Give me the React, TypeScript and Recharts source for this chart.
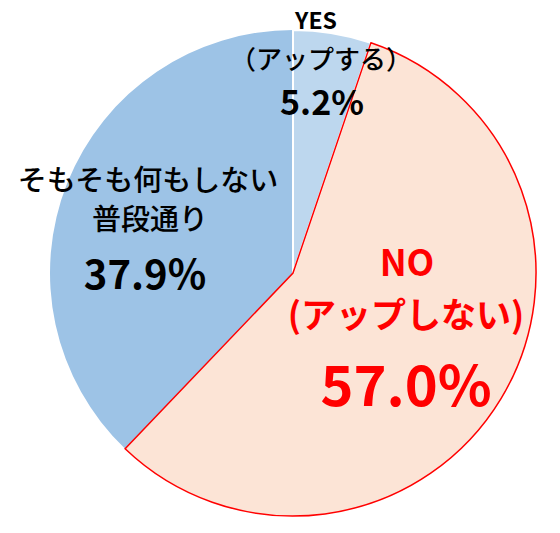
import { PieChart, Pie, Cell } from 'recharts'

const categories = ['YES', 'NO', 'そもそも何もしない普段通り']
const values = [5.2, 57.0, 37.9]
const titleLines = [
  ['YES', '（アップする）'],
  ['NO', '(アップしない)'],
  ['そもそも何もしない', '普段通り'],
]
const percentLabels = ['5.2%', '57.0%', '37.9%']

const FILLS = ['#BDD7EE', '#FCE4D6', '#9DC3E6']
const EDGES = ['#FFFFFF', '#FF0000', 'none']
const FONT = "'Noto Sans CJK JP', 'Noto Sans', sans-serif"

const data = categories.map((name, i) => ({ name, value: values[i] }))

// text layout per slice, offsets from pie centre
const LABEL_LAYOUT = [
  {
    color: '#000',
    lines: [
      { dx: 23, dy: -254, size: 23, weight: 700 },
      { dx: 28, dy: -216, size: 26, weight: 500 },
      { dx: 29, dy: -173, size: 34, weight: 700 },
    ],
  },
  {
    color: '#FF0000',
    lines: [
      { dx: 114, dy: -13, size: 36, weight: 700 },
      { dx: 113, dy: 39, size: 35, weight: 700 },
      { dx: 113, dy: 108, size: 56, weight: 700 },
    ],
  },
  {
    color: '#000',
    lines: [
      { dx: -145, dy: -95, size: 29, weight: 500 },
      { dx: -143, dy: -56, size: 29, weight: 500 },
      { dx: -148, dy: -1, size: 40, weight: 700 },
    ],
  },
]

const renderLabel = (props: any) => {
  const { cx, cy, index } = props
  const layout = LABEL_LAYOUT[index]
  const texts = [...titleLines[index], percentLabels[index]]
  return (
    <g key={`lbl-${index}`}>
      {texts.map((t, j) => {
        const l = layout.lines[j]
        return (
          <text
            key={j}
            x={cx + l.dx}
            y={cy + l.dy}
            textAnchor="middle"
            dominantBaseline="central"
            fill={layout.color}
            fontFamily={FONT}
            fontSize={l.size}
            fontWeight={l.weight}
          >
            {t}
          </text>
        )
      })}
    </g>
  )
}

export default function App() {
  return (
    <div style={{ position: 'absolute', left: 0, top: 0, width: 560, height: 533, background: '#fff' }}>
      <PieChart width={560} height={533} margin={{ top: 0, right: 0, bottom: 0, left: 0 }}>
        <Pie
          data={data}
          dataKey="value"
          cx={293}
          cy={273}
          outerRadius={243}
          startAngle={90}
          endAngle={-270}
          stroke="none"
          label={renderLabel}
          labelLine={false}
          isAnimationActive={false}
        >
          {data.map((d, i) => (
            <Cell key={d.name} fill={FILLS[i]} />
          ))}
        </Pie>
        {/* outlines drawn on top so the red edge is not covered */}
        <Pie
          data={data}
          dataKey="value"
          cx={293}
          cy={273}
          outerRadius={243}
          startAngle={90}
          endAngle={-270}
          fill="none"
          isAnimationActive={false}
        >
          {data.map((d, i) => (
            <Cell key={d.name} fill="none" stroke={EDGES[i]} strokeWidth={i === 0 ? 2 : 1.5} />
          ))}
        </Pie>
      </PieChart>
    </div>
  )
}
